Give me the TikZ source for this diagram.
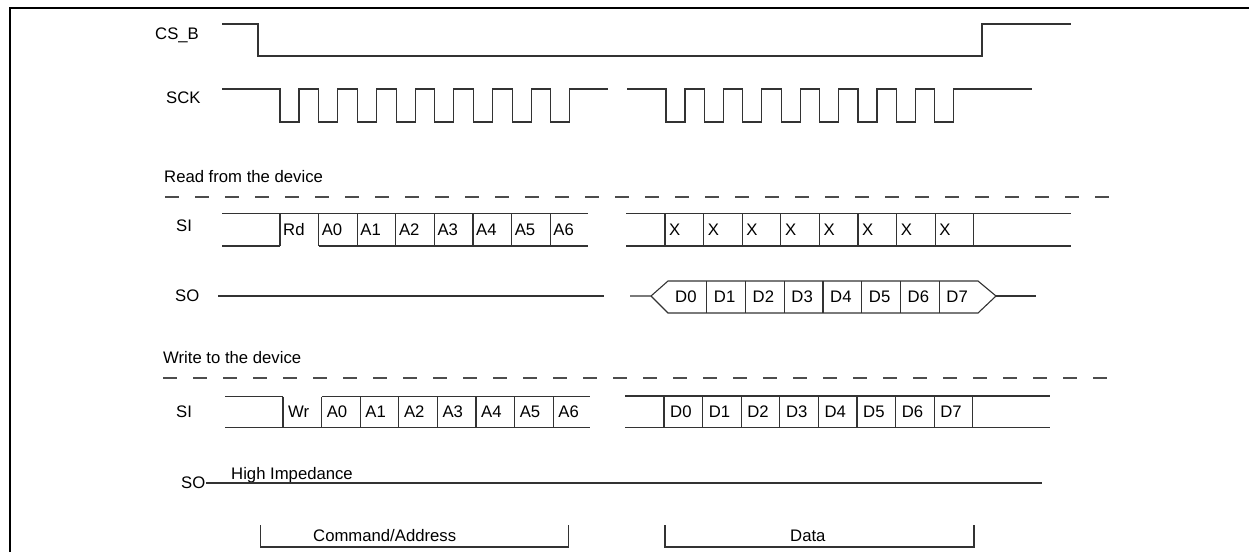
\documentclass[tikz,border=0pt]{standalone}
\usepackage{fontspec}
\setmainfont{Liberation Sans}
\begin{document}
\begin{tikzpicture}[x=1pt,y=-1pt,
  sig/.style={draw=black!80,line width=1.1pt},
  dashsep/.style={draw=black!70,line width=1.1pt,dash pattern=on 14pt off 16pt},
  frame/.style={draw=black,line width=2.6pt},
  lbl/.style={anchor=base west,inner sep=0pt,font=\fontsize{16.7}{20}\selectfont},
  celltxt/.style={anchor=base west,inner sep=0pt,font=\fontsize{16.7}{20}\selectfont}]
\useasboundingbox (0,0) rectangle (1249,552);
% frame
\draw[frame] (10,552) -- (10,8) -- (1249,8);
% labels
\node[lbl] (csb) at (155,39) {CS\_B};
\node[lbl] (sck) at (166,103) {SCK};
\node[lbl] (rd) at (164,182) {Read from the device};
\node[lbl] (sir) at (176,231) {SI};
\node[lbl] (sor) at (175,301) {SO};
\node[lbl] (wr) at (163,363) {Write to the device};
\node[lbl] (siw) at (176,417.5) {SI};
\node[lbl] (sow) at (181,488) {SO};
\node[lbl] (hiz) at (231,479) {High Impedance};
\node[lbl] (cmd) at (313,541) {Command/Address};
\node[lbl] (dat) at (790,541) {Data};
% CS_B
\draw[sig] (222,24) -- (258,24) -- (258,56) -- (982,56) -- (982,24) -- (1071,24);
% SCK
\draw[sig] (222,89) -- (280,89)
  \foreach \i in {0,...,7}{ -- ({280+38.7*\i},89) -- ({280+38.7*\i},122) -- ({299+38.7*\i},122) -- ({299+38.7*\i},89)} -- (608,89);
\draw[sig] (627,89)
  \foreach \i in {0,...,7}{ -- ({666+38.4*\i},89) -- ({666+38.4*\i},122) -- ({685+38.4*\i},122) -- ({685+38.4*\i},89)} -- (1032,89);
% separators
\draw[dashsep] (165,197) -- (1110,197);
\draw[dashsep] (163,378) -- (1110,378);
% Read SI, command part
\draw[sig] (222,213.5) -- (588,213.5);
\draw[sig] (222,246) -- (280,246);
\draw[sig] (319,246) -- (588,246);
\foreach \i in {0,...,7}{\draw[sig] ({280+38.6*\i},213.5) -- ({280+38.6*\i},246);}
\foreach \t [count=\i from 0] in {Rd,A0,A1,A2,A3,A4,A5,A6}{
  \node[celltxt] (rc\i) at ({283+38.6*\i},235) {\t};}
% Read SI, data part
\draw[sig] (626,213.5) -- (1071,213.5);
\draw[sig] (626,246) -- (1071,246);
\foreach \i in {0,...,8}{\draw[sig] ({665+38.6*\i},213.5) -- ({665+38.6*\i},246);}
\foreach \i in {0,...,7}{\node[celltxt] (rx\i) at ({669+38.6*\i},235) {X};}
% Read SO
\draw[sig] (218,296) -- (604,296);
\draw[sig] (630,296) -- (651,296) -- (668,281) -- (978,281) -- (996,296) -- (978,313) -- (668,313) -- (651,296);
\draw[sig] (996,296) -- (1036,296);
\foreach \i in {1,...,7}{\draw[sig] ({668+38.75*\i},281) -- ({668+38.75*\i},313);}
\foreach \i in {0,...,7}{\node[celltxt] (rdd\i) at ({675+38.75*\i},302) {D\i};}
% Write SI, command part
\draw[sig] (225,396.5) -- (283,396.5);
\draw[sig] (322,396.5) -- (590,396.5);
\draw[sig] (225,427.5) -- (590,427.5);
\foreach \i in {0,...,7}{\draw[sig] ({283+38.6*\i},396.5) -- ({283+38.6*\i},427.5);}
\foreach \t [count=\i from 0] in {Wr,A0,A1,A2,A3,A4,A5,A6}{
  \node[celltxt] (wc\i) at ({288+38.6*\i},417.5) {\t};}
% Write SI, data part
\draw[sig] (625,396) -- (1050,396);
\draw[sig] (625,427.5) -- (1050,427.5);
\foreach \i in {0,...,8}{\draw[sig] ({664+38.6*\i},396) -- ({664+38.6*\i},427.5);}
\foreach \i in {0,...,7}{\node[celltxt] (wd\i) at ({670+38.6*\i},417.5) {D\i};}
% Write SO
\draw[sig] (206,483) -- (1042,483);
% brackets
\draw[sig] (260.6,525) -- (260.6,547) -- (568.8,547) -- (568.8,525);
\draw[sig] (665,525) -- (665,547) -- (974,547) -- (974,525);
\end{tikzpicture}
\end{document}
